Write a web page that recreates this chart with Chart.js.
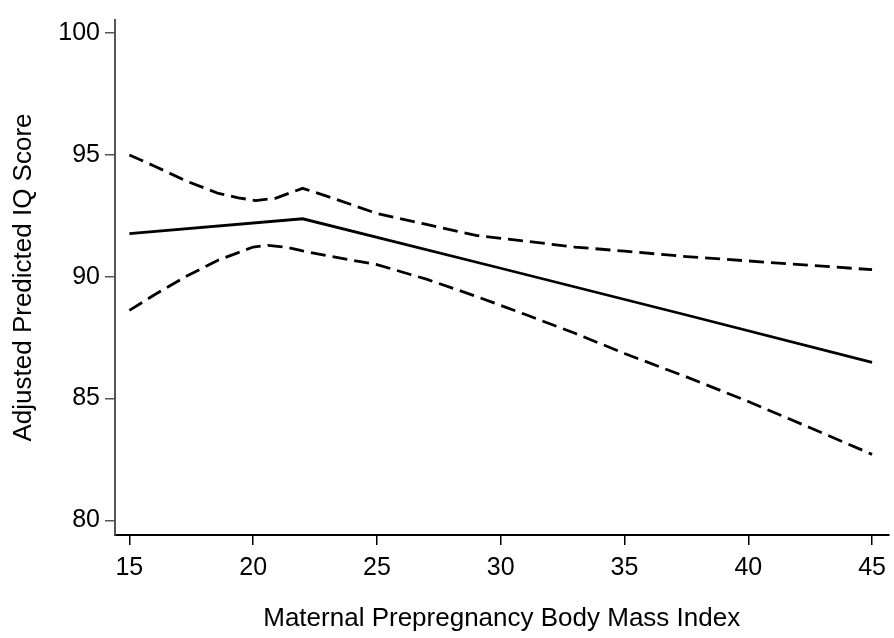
<!DOCTYPE html>
<html>
<head>
<meta charset="utf-8">
<script src="https://cdn.jsdelivr.net/npm/chart.js@4/dist/chart.umd.min.js"></script>
<style>
  html, body { margin: 0; padding: 0; background: #fff; }
  #chart { display: block; }
</style>
</head>
<body>
<canvas id="chart" width="894" height="638"></canvas>
<script>
// Fitted line (solid)
const fitBmi = [15, 22, 30, 37.5, 45];
const fitIq = [91.77, 92.38, 90.35, 88.43, 86.49];

// Upper confidence band (dashed)
const upperBmi = [15, 16, 17.3, 18.6, 19.4, 20.1, 20.9, 21.5, 22, 23, 24, 25, 27, 29, 31, 33, 35, 37.5, 40, 42.5, 45];
const upperIq = [95.0, 94.55, 93.93, 93.42, 93.24, 93.13, 93.22, 93.45, 93.63, 93.3, 92.95, 92.6, 92.15, 91.7, 91.46, 91.22, 91.05, 90.83, 90.65, 90.47, 90.29];

// Lower confidence band (dashed)
const lowerBmi = [15, 16, 17.3, 18.6, 20, 20.6, 21.3, 22, 23, 24, 25, 27, 29, 31, 33, 35, 37.5, 40, 42.5, 45];
const lowerIq = [88.62, 89.25, 90.02, 90.69, 91.22, 91.29, 91.22, 91.06, 90.86, 90.68, 90.5, 89.9, 89.2, 88.45, 87.68, 86.85, 85.89, 84.88, 83.8, 82.71];

// Tick labels
const xTicks = [15, 20, 25, 30, 35, 40, 45];
const yTicks = [80, 85, 90, 95, 100];

const FONT = '"Liberation Sans", Arial, sans-serif';

function toPoints(xs, ys) {
    return xs.map((x, i) => ({ x: x, y: ys[i] }));
}

function lineSet(xs, ys, dashed) {
    return {
        data: toPoints(xs, ys),
        showLine: true,
        borderColor: '#000',
        borderWidth: 2.8,
        borderDash: dashed ? [15, 7] : [],
        pointRadius: 0,
        tension: 0,
        fill: false
    };
}

new Chart(document.getElementById('chart').getContext('2d'), {
    type: 'scatter',
    data: {
        datasets: [
            lineSet(fitBmi, fitIq, false),
            lineSet(upperBmi, upperIq, true),
            lineSet(lowerBmi, lowerIq, true)
        ]
    },
    options: {
        responsive: false,
        animation: false,
        layout: { padding: { top: 7, right: 1, left: 0, bottom: 0 } },
        plugins: {
            legend: { display: false },
            tooltip: { enabled: false }
        },
        scales: {
            x: {
                type: 'linear',
                min: 14.42,
                max: 45.66,
                afterBuildTicks: function(scale) {
                    scale.ticks = xTicks.map(v => ({ value: v }));
                },
                afterFit: function(scale) { scale.height = 103; },
                grid: {
                    drawOnChartArea: false,
                    drawTicks: true,
                    tickLength: 10,
                    color: '#000',
                    lineWidth: 1.5
                },
                border: { display: true, color: '#000', width: 2 },
                ticks: {
                    color: '#000',
                    padding: 8,
                    maxRotation: 0,
                    font: { family: FONT, size: 25 }
                },
                title: {
                    display: true,
                    text: 'Maternal Prepregnancy Body Mass Index',
                    color: '#000',
                    font: { family: FONT, size: 26 },
                    padding: { top: 0, bottom: 4 }
                }
            },
            y: {
                type: 'linear',
                min: 79.4,
                max: 100.54,
                afterBuildTicks: function(scale) {
                    scale.ticks = yTicks.map(v => ({ value: v }));
                },
                afterFit: function(scale) { scale.width = 115; },
                grid: {
                    drawOnChartArea: false,
                    drawTicks: true,
                    tickLength: 10,
                    color: '#555',
                    lineWidth: 1.5
                },
                border: { display: true, color: '#555', width: 2 },
                ticks: {
                    color: '#000',
                    padding: 5,
                    font: { family: FONT, size: 25 }
                },
                title: {
                    display: true,
                    text: 'Adjusted Predicted IQ Score',
                    color: '#000',
                    font: { family: FONT, size: 26 },
                    padding: { top: 8, bottom: 0 }
                }
            }
        }
    }
});
</script>
</body>
</html>
